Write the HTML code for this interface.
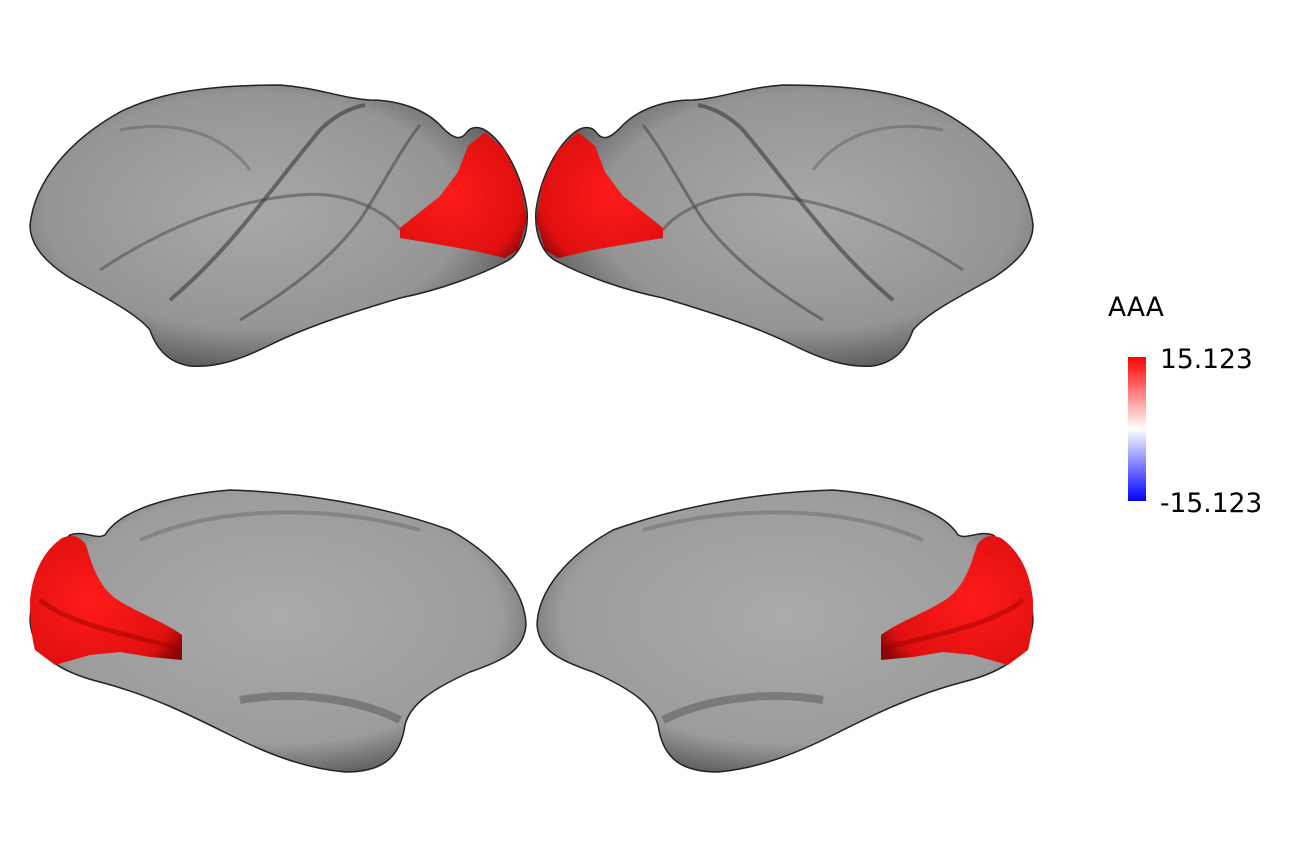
<!DOCTYPE html>
<html><head><meta charset="utf-8"><style>
html,body{margin:0;padding:0;background:#fff;width:1291px;height:859px;overflow:hidden}
svg{display:block}
text{font-family:"DejaVu Sans","Liberation Sans",sans-serif}
</style></head><body>
<svg width="1291" height="859" viewBox="0 0 1291 859">
<defs>
<radialGradient id="gl" cx="0.45" cy="0.45" r="0.6">
<stop offset="0" stop-color="#a8a8a8"/><stop offset="0.7" stop-color="#959595"/><stop offset="0.95" stop-color="#5a5a5a"/><stop offset="1" stop-color="#2a2a2a"/>
</radialGradient>
<radialGradient id="gm" cx="0.5" cy="0.45" r="0.6">
<stop offset="0" stop-color="#aaaaaa"/><stop offset="0.75" stop-color="#9c9c9c"/><stop offset="0.95" stop-color="#606060"/><stop offset="1" stop-color="#2a2a2a"/>
</radialGradient>
<linearGradient id="cb" x1="0" y1="0" x2="0" y2="1">
<stop offset="0" stop-color="#ff0000"/><stop offset="0.5" stop-color="#ffffff"/><stop offset="1" stop-color="#0000ff"/>
</linearGradient>
<radialGradient id="rd" cx="0.4" cy="0.5" r="0.7">
<stop offset="0" stop-color="#ff1a1a"/><stop offset="0.8" stop-color="#e01010"/><stop offset="1" stop-color="#8a0606"/>
</radialGradient>
<g id="lat">
<path d="M30,225 C35,180 70,140 120,112 C160,92 210,85 280,85 C320,88 340,98 370,100 C400,100 425,110 440,125 C452,138 460,142 467,132 C472,126 480,126 488,132 C505,145 522,175 527,210 C529,235 520,255 505,262 C480,275 440,290 400,298 C360,310 310,325 270,345 C240,360 215,368 190,366 C165,362 155,345 150,330 C135,312 100,295 70,278 C45,262 30,245 30,225 Z" fill="url(#gl)" stroke="#222" stroke-width="1.5"/>
<path d="M100,270 C160,230 230,200 300,195 C350,190 390,215 400,230" fill="none" stroke="#555" stroke-width="3" opacity="0.6"/>
<path d="M170,300 C230,250 270,190 320,130 C335,115 350,108 365,105" fill="none" stroke="#3a3a3a" stroke-width="4" opacity="0.6"/>
<path d="M240,320 C290,290 330,260 360,220 C380,190 400,150 420,125" fill="none" stroke="#444" stroke-width="3" opacity="0.55"/>
<path d="M120,130 C170,120 220,130 250,170" fill="none" stroke="#555" stroke-width="3" opacity="0.4"/>
<path d="M400,228 L420,212 L440,196 L458,172 L468,146 L485,132 L505,150 L521,185 L527,220 L518,250 L505,258 L470,250 L430,243 L400,238 Z" fill="url(#rd)"/>
</g>
<g id="med">
<path d="M30,620 C32,585 45,555 70,535 C85,530 95,540 105,535 C120,510 170,495 230,490 C300,492 380,505 450,530 C495,555 525,590 526,625 C524,650 505,660 470,672 C430,690 410,705 405,725 C400,760 380,772 345,772 C300,768 260,750 230,735 C190,715 150,695 100,682 C60,672 32,655 30,620 Z" fill="url(#gm)" stroke="#222" stroke-width="1.5"/>
<path d="M140,540 C220,505 330,505 420,530" fill="none" stroke="#666" stroke-width="4" opacity="0.45"/>
<path d="M240,700 C300,690 360,700 400,720" fill="none" stroke="#333" stroke-width="8" opacity="0.35"/>
<path d="M30,600 C33,570 45,550 62,538 C72,534 80,536 86,545 C92,565 98,585 115,598 C135,612 165,622 182,635 L182,660 L150,657 L120,652 L90,655 L55,665 L35,650 C31,635 30,615 30,600 Z" fill="url(#rd)"/>
<path d="M40,600 C70,625 130,635 178,648" fill="none" stroke="#900" stroke-width="5" opacity="0.45"/>
</g>
</defs>
<use href="#lat"/>
<use href="#lat" transform="translate(1063,0) scale(-1,1)"/>
<use href="#med"/>
<use href="#med" transform="translate(1063,0) scale(-1,1)"/>
<text x="1108" y="316" font-size="26.5" fill="#000">AAA</text>
<rect x="1128" y="357" width="18" height="144" fill="url(#cb)"/>
<text x="1160" y="368" font-size="26.5" fill="#000">15.123</text>
<text x="1160" y="512" font-size="26.5" fill="#000">-15.123</text>
</svg>
</body></html>
